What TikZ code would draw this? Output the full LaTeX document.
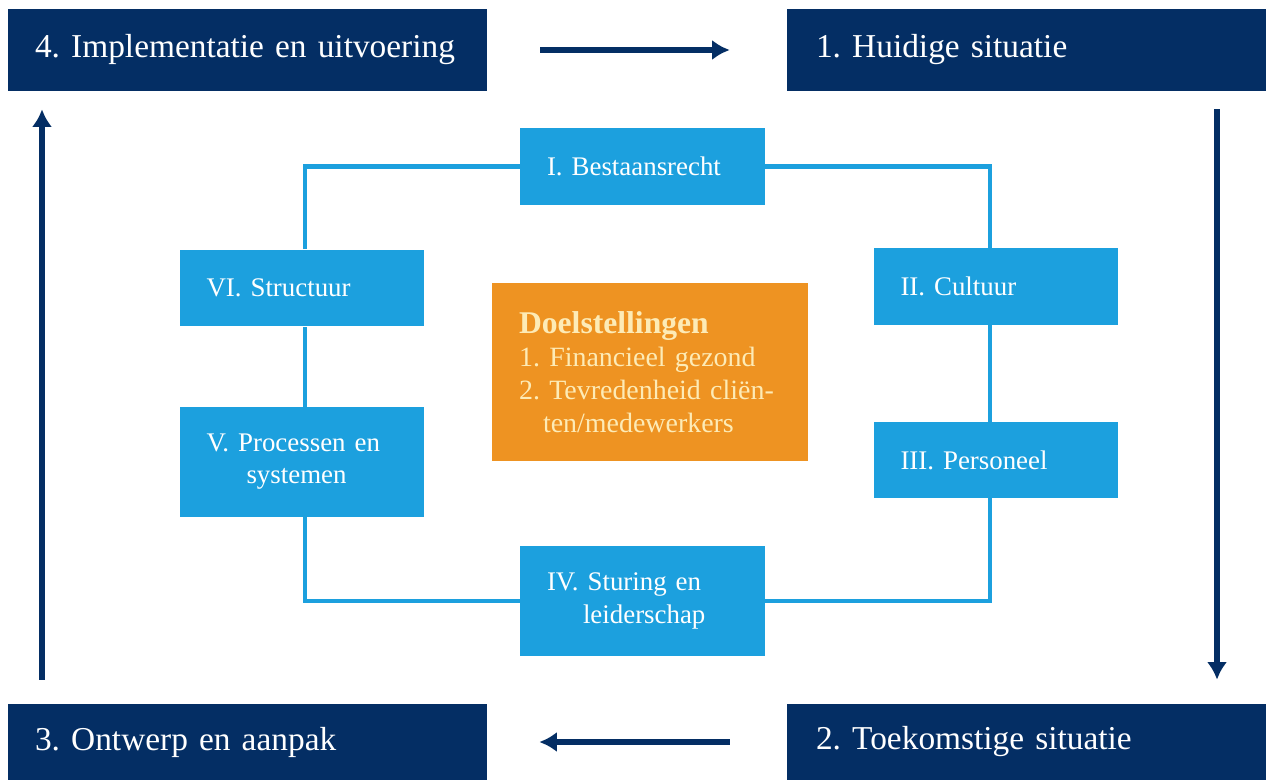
\documentclass[tikz,border=0pt]{standalone}
\usepackage{fontspec}
\setmainfont{Liberation Serif}
\usetikzlibrary{arrows.meta,backgrounds}
\frenchspacing

\definecolor{navy}{RGB}{4,46,100}
\definecolor{skyblue}{RGB}{28,160,222}
\definecolor{goal}{RGB}{238,147,34}
\definecolor{cream}{RGB}{253,235,182}

\begin{document}
\begin{tikzpicture}[x=0.02cm,y=-0.02cm,
    phase/.style={fill=navy,text=white,minimum height=1.64cm,text width=8.7cm,
        inner xsep=0.44cm,align=left,font=\fontsize{19}{23}\selectfont},
    pillar/.style={fill=skyblue,text=white,minimum height=1.54cm,text width=3.82cm,
        inner xsep=0.54cm,align=left,font=\fontsize{15.3}{18.3}\selectfont},
    turn/.style={draw=navy,line width=3.4pt,-{Latex[length=10pt,width=11.5pt]}},
    link/.style={draw=skyblue,line width=2.3pt}]
    \useasboundingbox (0,0) rectangle (1266,780);

    % the four phases
    \node[phase] (impl) at (247.5,50) {\hspace*{0.1cm}4. Implementatie en uitvoering};
    \node[phase] (now) at (1026.5,50) {\hspace*{0.14cm}1. Huidige situatie};
    \node[phase,minimum height=1.52cm] (design) at (247.5,742) {\raisebox{-3pt}{\hspace*{0.1cm}3. Ontwerp en aanpak}};
    \node[phase,minimum height=1.52cm] (future) at (1026.5,742) {\raisebox{-3pt}{\hspace*{0.14cm}2. Toekomstige situatie}};

    % the six aspects
    \node[pillar] (bestaan) at (642.5,166.5) {I. Bestaansrecht};
    \node[pillar] (cultuur) at (996,286.5) {II. Cultuur};
    \node[pillar] (personeel) at (996,460) {III. Personeel};
    \node[pillar,minimum height=2.2cm] (sturing) at (642.5,601)
        {IV. Sturing en\\\hspace*{0.72cm}leiderschap};
    \node[pillar,minimum height=2.2cm] (processen) at (302,462)
        {V. Processen en\\\hspace*{0.8cm}systemen};
    \node[pillar] (structuur) at (302,288) {VI. Structuur};

    % goals in the middle
    \node[fill=goal,text=cream,minimum width=6.32cm,minimum height=3.56cm,
        text width=5.24cm,inner xsep=0.54cm,align=left,
        font=\fontsize{15.9}{18.7}\selectfont] (doel) at (650,372)
        {{\bfseries\fontsize{18}{18.7}\selectfont Doelstellingen}\\
         1. Financieel gezond\\
         2. Tevredenheid cliën-\\
         \hspace*{0.48cm}ten/medewerkers};

    % ring behind the aspects
    \begin{scope}[on background layer]
        \draw[link] ([xshift=1.7pt]structuur.north) |- (bestaan)
            -| ([xshift=-3.4pt]cultuur.north) -- ([xshift=-3.4pt]personeel.south)
            |- (sturing) -| ([xshift=1.7pt]processen.south)
            -- ([xshift=1.7pt]processen.north) -- ([xshift=1.7pt]structuur.south);
    \end{scope}

    % cycle of the phases
    \coordinate (rightx) at (1217,0);
    \coordinate (leftx) at (42,0);
    \draw[turn,shorten <=1.06cm,shorten >=1.14cm] (impl.east) -- (now.west);
    \draw[turn,shorten <=0.36cm,shorten >=0.48cm] (now.south -| rightx) -- (future.north -| rightx);
    \draw[turn,shorten <=1.14cm,shorten >=1.04cm] (future.west) -- (design.east);
    \draw[turn,shorten <=0.48cm,shorten >=0.36cm] (design.north -| leftx) -- (impl.south -| leftx);
\end{tikzpicture}
\end{document}
